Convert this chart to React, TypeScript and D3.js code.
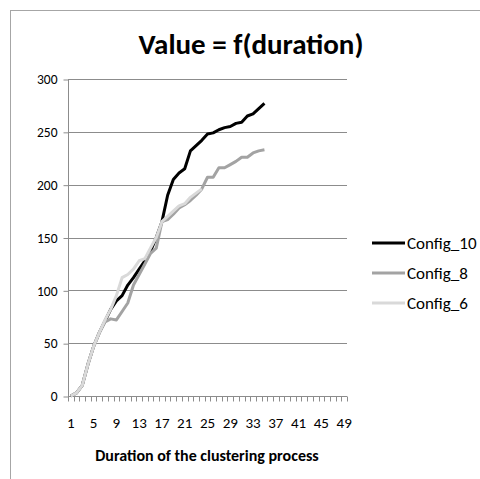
import React, { useEffect, useRef } from "react";
import * as d3 from "d3";

const categories = d3.range(1, 50).map(String);
const tickLabels = ["1", "5", "9", "13", "17", "21", "25", "29", "33", "37", "41", "45", "49"];
const yTicks = [0, 50, 100, 150, 200, 250, 300];

const config10 = [0, 3, 10, 30, 47, 60, 71, 82, 90, 95, 105, 112, 120, 128, 137, 150, 165, 190, 205, 211, 215, 232, 237, 242, 248, 249, 252, 254, 255, 258, 259, 265, 267, 272, 277];
const config8 = [0, 3, 10, 30, 47, 60, 70, 73, 72, 80, 88, 105, 115, 125, 135, 140, 165, 167, 172, 178, 181, 185, 190, 196, 207, 207, 216, 216, 219, 222, 226, 226, 230, 232, 233];
const config6 = [0, 3, 10, 30, 47, 60, 72, 82, 95, 112, 115, 120, 128, 130, 140, 150, 165, 170, 175, 180, 182, 188, 192, 196];

const seriesNames = ["Config_10", "Config_8", "Config_6"];
const seriesValues = [config10, config8, config6];
const seriesColors = ["#000000", "#a3a3a3", "#d9d9d9"];

export default function App() {
  const svgRef = useRef<SVGSVGElement>(null);

  useEffect(() => {
    const svg = d3.select(svgRef.current);
    svg.selectAll("*").remove();

    const font = "Carlito, 'Liberation Sans', Arial, sans-serif";

    svg.append("rect")
      .attr("x", 10.5).attr("y", 10.5)
      .attr("width", 500).attr("height", 500)
      .attr("fill", "#fff").attr("stroke", "#a6a6a6");

    const x = d3.scaleBand<string>().domain(categories).range([68, 347]).padding(0);
    const y = d3.scaleLinear().domain([0, 300]).range([396, 79]);

    // grid
    svg.append("g").selectAll("line").data(yTicks.filter(t => t > 0)).join("line")
      .attr("x1", 68).attr("x2", 347)
      .attr("y1", d => Math.round(y(d)) + 0.5).attr("y2", d => Math.round(y(d)) + 0.5)
      .attr("stroke", "#8c8c8c").attr("stroke-width", 1);

    // y axis
    const yAxis = svg.append("g").attr("transform", "translate(68.5,0.5)")
      .call(d3.axisLeft(y).tickValues(yTicks).tickSize(5).tickPadding(6));
    yAxis.select(".domain").attr("stroke", "#8c8c8c").attr("d", `M0,${y(300)}V${y(0)}`);
    yAxis.selectAll(".tick line").attr("stroke", "#8c8c8c");
    yAxis.selectAll("text").attr("font-family", font).attr("font-size", 13.5).attr("fill", "#000");

    // x axis
    const xg = svg.append("g").attr("transform", `translate(0,${Math.round(y(0)) + 0.5})`);
    xg.append("line").attr("x1", 68).attr("x2", 347).attr("stroke", "#8c8c8c");
    xg.selectAll("line.tk").data(d3.range(0, categories.length + 1)).join("line")
      .attr("class", "tk")
      .attr("x1", i => Math.round(68 + i * x.bandwidth()) + 0.5)
      .attr("x2", i => Math.round(68 + i * x.bandwidth()) + 0.5)
      .attr("y1", 0).attr("y2", 5).attr("stroke", "#8c8c8c");
    xg.selectAll("text").data(tickLabels).join("text")
      .attr("x", d => x(d)! + x.bandwidth() / 2)
      .attr("y", 31)
      .attr("text-anchor", "middle")
      .attr("font-family", font).attr("font-size", 15).attr("fill", "#000")
      .text(d => d);

    // lines
    const line = d3.line<number>()
      .x((_, i) => x(categories[i])! + x.bandwidth() / 2)
      .y(d => y(d));

    seriesValues.forEach((vals, i) => {
      svg.append("path").datum(vals)
        .attr("fill", "none")
        .attr("stroke", seriesColors[i])
        .attr("stroke-width", 3)
        .attr("stroke-linejoin", "round")
        .attr("d", line);
    });

    // title
    svg.append("text").attr("x", 251).attr("y", 54)
      .attr("text-anchor", "middle").attr("font-family", font)
      .attr("font-size", 29).attr("font-weight", "bold").text("Value = f(duration)");

    svg.append("text").attr("x", 207).attr("y", 461)
      .attr("text-anchor", "middle").attr("font-family", font)
      .attr("font-size", 16).attr("font-weight", "bold").text("Duration of the clustering process");

    // legend
    const legend = svg.append("g");
    seriesNames.forEach((name, i) => {
      const ly = 243 + i * 30;
      legend.append("line").attr("x1", 372).attr("x2", 405).attr("y1", ly).attr("y2", ly)
        .attr("stroke", seriesColors[i]).attr("stroke-width", 3);
      legend.append("text").attr("x", 407).attr("y", ly + 5.5)
        .attr("font-family", font).attr("font-size", 17).text(name);
    });
  }, []);

  return (
    <svg ref={svgRef} width={480} height={479}
      style={{ position: "absolute", left: 0, top: 0, background: "#fff" }} />
  );
}
